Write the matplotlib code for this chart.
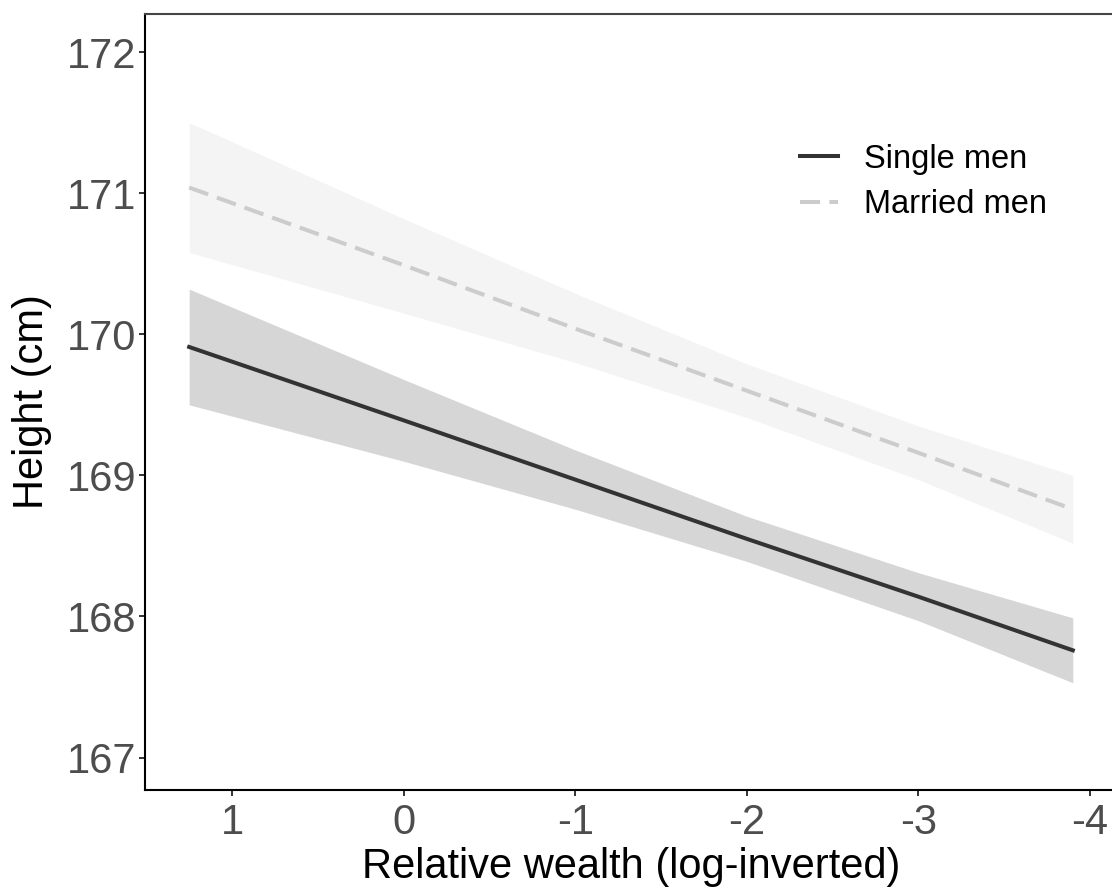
import numpy as np
import matplotlib
matplotlib.use('Agg')
import matplotlib.pyplot as plt

# values
wealth = [1.25, 0, -1, -2, -3, -3.9]

single_fit = [169.91, 169.39, 168.97, 168.55, 168.14, 167.76]
single_hi = [170.32, 169.68, 169.18, 168.71, 168.31, 167.99]
single_lo = [169.50, 169.10, 168.76, 168.39, 167.97, 167.53]

married_fit = [171.04, 170.49, 170.04, 169.60, 169.16, 168.76]
married_hi = [171.50, 170.82, 170.29, 169.79, 169.35, 169.00]
married_lo = [170.58, 170.15, 169.80, 169.41, 168.97, 168.52]

xticks = [1, 0, -1, -2, -3, -4]
yticks = [167, 168, 169, 170, 171, 172]

plt.rcParams['font.family'] = ['Liberation Sans', 'DejaVu Sans']

fig = plt.figure(figsize=(11.12, 8.94), dpi=100)
W, H = 1112, 894
ax = fig.add_axes([145 / W, 1 - 790 / H, (1117 - 145) / W, (790 - 14) / H])

ax.fill_between(wealth, married_lo, married_hi, color='#f4f4f4', linewidth=0, zorder=1)
ax.fill_between(wealth, single_lo, single_hi, color='#d6d6d6', linewidth=0, zorder=1)
ax.plot(wealth, single_fit, color='#333333', linewidth=2.9, label='Single men', zorder=3)
ax.plot(wealth, married_fit, color='#cccccc', linewidth=2.9, dashes=(5, 2.3),
        label='Married men', zorder=3)

ax.set_xlim(1.5075, -4.1575)
ax.set_ylim(166.77, 172.27)
ax.set_xticks(xticks)
ax.set_xticklabels([str(t) for t in xticks])
ax.set_yticks(yticks)

for side in ['left', 'bottom']:
    ax.spines[side].set_linewidth(1.5)
    ax.spines[side].set_color('black')
ax.spines['top'].set_linewidth(1.5)
ax.spines['top'].set_color('#444444')
ax.spines['right'].set_visible(False)

ax.tick_params(axis='both', labelsize=30, labelcolor='#4d4d4d', color='#333333',
               length=4.3, width=1.4)
ax.tick_params(axis='x', pad=5)
ax.tick_params(axis='y', pad=2)

ax.set_xlabel('Relative wealth (log-inverted)', fontsize=30, color='black')
ax.set_ylabel('Height (cm)', fontsize=30, color='black')
ax.xaxis.set_label_coords(0.5, -0.073)
ax.yaxis.set_label_coords(-0.096, 0.5)

ax.legend(loc='center left', bbox_to_anchor=(800 / W, 1 - 182 / H),
          bbox_transform=fig.transFigure, frameon=False, fontsize=23.5,
          handlelength=1.15, handletextpad=0.8, labelspacing=0.45,
          borderpad=0, borderaxespad=0)

fig.savefig('out.png', dpi=100)
